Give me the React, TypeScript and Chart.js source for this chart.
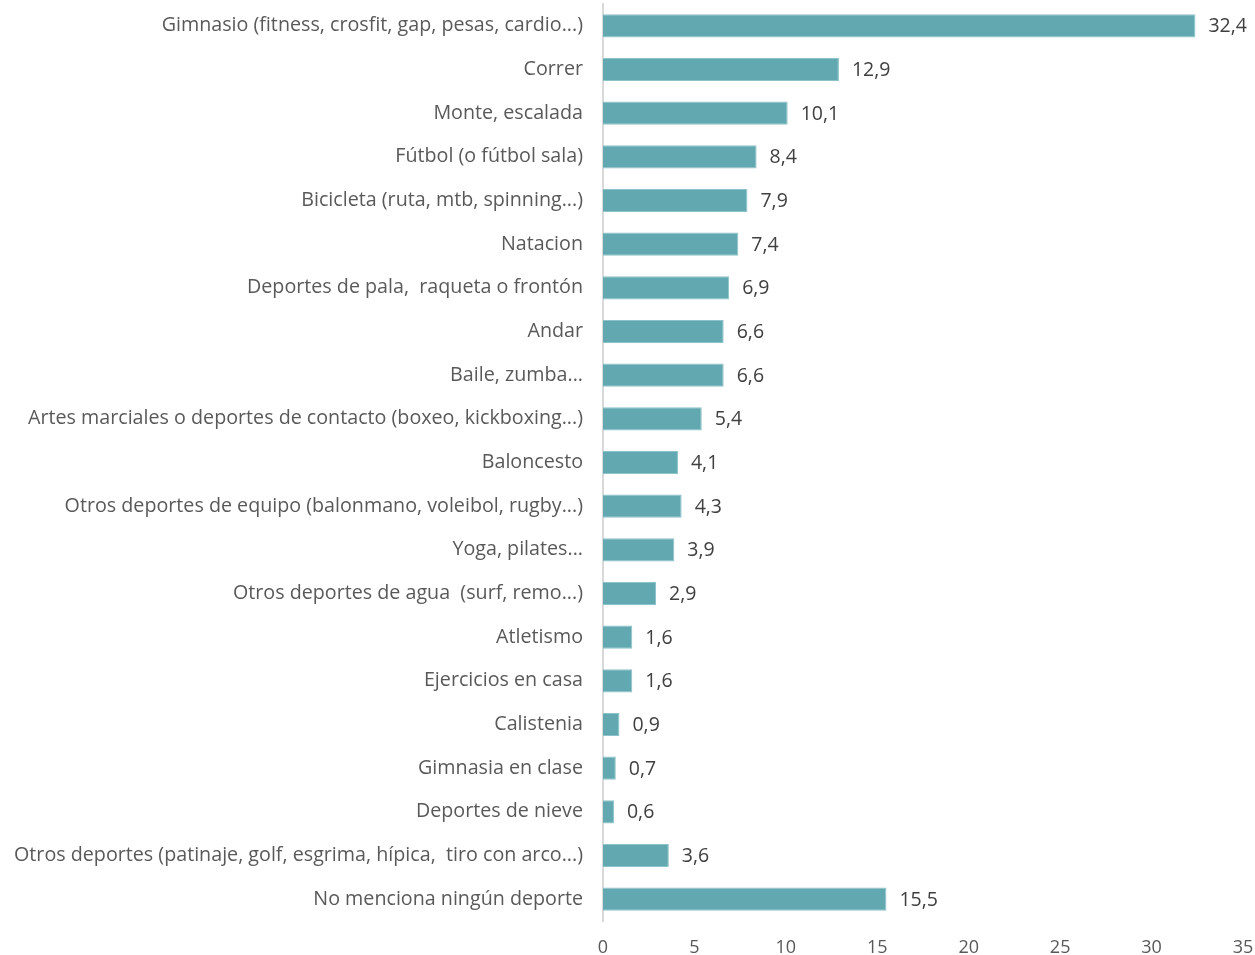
import React, { useEffect, useRef } from "react";
import { Chart, registerables } from "chart.js";

Chart.register(...registerables);

const categories = [
  "Gimnasio (fitness, crosfit, gap, pesas, cardio...)",
  "Correr",
  "Monte, escalada",
  "Fútbol (o fútbol sala)",
  "Bicicleta (ruta, mtb, spinning...)",
  "Natacion",
  "Deportes de pala,  raqueta o frontón",
  "Andar",
  "Baile, zumba...",
  "Artes marciales o deportes de contacto (boxeo, kickboxing...)",
  "Baloncesto",
  "Otros deportes de equipo (balonmano, voleibol, rugby...)",
  "Yoga, pilates...",
  "Otros deportes de agua  (surf, remo...)",
  "Atletismo",
  "Ejercicios en casa",
  "Calistenia",
  "Gimnasia en clase",
  "Deportes de nieve",
  "Otros deportes (patinaje, golf, esgrima, hípica,  tiro con arco...)",
  "No menciona ningún deporte",
];

const values = [32.4, 12.9, 10.1, 8.4, 7.9, 7.4, 6.9, 6.6, 6.6, 5.4, 4.1, 4.3, 3.9, 2.9, 1.6, 1.6, 0.9, 0.7, 0.6, 3.6, 15.5];

const xMin = 0;
const xMax = 35;
const xStep = 5;

const FONT = "'Open Sans', Lato, sans-serif";

const valueLabels = {
  id: "valueLabels",
  afterDatasetsDraw(chart: any) {
    const ctx = chart.ctx;
    const meta = chart.getDatasetMeta(0);
    ctx.save();
    ctx.font = `19.5px ${FONT}`;
    ctx.fillStyle = "#404040";
    ctx.textAlign = "left";
    ctx.textBaseline = "middle";
    meta.data.forEach((bar: any, i: number) => {
      const txt = values[i].toFixed(1).replace(".", ",");
      ctx.fillText(txt, bar.x + 13, bar.y + 1);
    });
    ctx.restore();
  },
};

export default function App() {
  const ref = useRef<HTMLCanvasElement>(null);
  useEffect(() => {
    document.body.style.margin = "0";
    const chart = new Chart(ref.current!, {
      type: "bar",
      data: {
        labels: categories,
        datasets: [
          {
            data: values,
            backgroundColor: "#62A8B0",
            borderColor: "#8cc3c9",
            borderWidth: 1,
            barPercentage: 0.53,
            categoryPercentage: 1,
          },
        ],
      },
      options: {
        indexAxis: "y",
        animation: false,
        responsive: false,
        maintainAspectRatio: false,
        layout: { padding: { left: 0, right: 12, top: 4, bottom: 0 } },
        plugins: {
          legend: { display: false },
          tooltip: { enabled: false },
        },
        scales: {
          x: {
            min: xMin,
            max: xMax,
            ticks: {
              stepSize: xStep,
              color: "#595959",
              font: { family: FONT, size: 18 },
              padding: 16,
            },
            grid: { display: false, drawTicks: false },
            border: { display: false },
            afterFit: (s: any) => {
              s.height = 34;
              s.paddingLeft = 0;
              s.paddingRight = 0;
            },
          },
          y: {
            ticks: {
              color: "#595959",
              font: { family: FONT, size: 19.7 },
              padding: 20,
              autoSkip: false,
            },
            grid: { display: false, drawTicks: false },
            border: { display: true, color: "#d9d9d9", width: 2 },
            afterFit: (s: any) => {
              s.width = 603;
              s.paddingTop = 0;
              s.paddingBottom = 0;
            },
          },
        },
      },
      plugins: [valueLabels],
    });
    return () => chart.destroy();
  }, []);
  return (
    <div style={{ width: 1255, height: 955 }}>
      <canvas ref={ref} width={1255} height={955} style={{ display: "block" }} />
    </div>
  );
}
